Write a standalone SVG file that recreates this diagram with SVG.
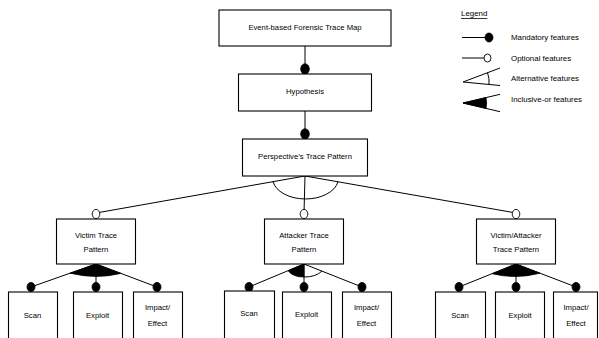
<svg xmlns="http://www.w3.org/2000/svg" width="599" height="338" viewBox="0 0 599 338">
<style>
.box{fill:#fff;stroke:#000;stroke-width:1.1}
.ln{stroke:#000;stroke-width:1;fill:none}
.dot{fill:#000;stroke:#000;stroke-width:0.8}
.opt{fill:#fff;stroke:#000;stroke-width:0.9}
.blk{fill:#000;stroke:#000;stroke-width:0.8}
text{font-family:"Liberation Sans",Arial,sans-serif;font-size:7.7px;fill:#000;text-anchor:middle;dominant-baseline:central}
.lg{text-anchor:start;font-size:7.9px}
</style>
<rect width="599" height="338" fill="#fff"/>
<g id="connectors">
<line class="ln" x1="305" y1="46" x2="305" y2="74"/>
<ellipse class="dot" cx="305" cy="69" rx="4.3" ry="5.2"/>
<line class="ln" x1="305" y1="111" x2="305" y2="139"/>
<ellipse class="dot" cx="305" cy="134" rx="4.3" ry="5.2"/>
<line class="ln" x1="305" y1="176" x2="96" y2="213"/>
<line class="ln" x1="305" y1="176" x2="516" y2="213"/>
<line class="ln" x1="305" y1="176" x2="304" y2="213"/>
<path class="ln" d="M273,181.5 A33,21 0 0 0 338,181.7"/>
<ellipse class="opt" cx="96" cy="214" rx="3.8" ry="4.6"/>
<ellipse class="opt" cx="304" cy="214" rx="3.8" ry="4.6"/>
<ellipse class="opt" cx="516" cy="214" rx="3.8" ry="4.6"/>
<line class="ln" x1="96" y1="264" x2="31" y2="287"/>
<line class="ln" x1="96" y1="264" x2="96" y2="287"/>
<line class="ln" x1="96" y1="264" x2="157" y2="287"/>
<path class="blk" d="M96,264 L70,273.2 Q96,279.5 121,273.4 Z"/>
<ellipse class="dot" cx="31" cy="287" rx="4" ry="4.6"/>
<ellipse class="dot" cx="96" cy="287" rx="4" ry="4.6"/>
<ellipse class="dot" cx="157" cy="287" rx="4" ry="4.6"/>
<line class="ln" x1="304" y1="264" x2="249" y2="287"/>
<line class="ln" x1="304" y1="264" x2="304" y2="287"/>
<line class="ln" x1="304" y1="264" x2="362" y2="287"/>
<path class="blk" d="M304,264 L288,270.7 A18,13 0 0 0 304,277 Z"/>
<path class="ln" d="M304,277 A21,13 0 0 0 322,271.1"/>
<ellipse class="dot" cx="249" cy="287" rx="4" ry="4.6"/>
<ellipse class="dot" cx="304" cy="287" rx="4" ry="4.6"/>
<ellipse class="dot" cx="362" cy="287" rx="4" ry="4.6"/>
<line class="ln" x1="516" y1="264" x2="459" y2="287"/>
<line class="ln" x1="516" y1="264" x2="516" y2="287"/>
<line class="ln" x1="516" y1="264" x2="576" y2="287"/>
<path class="blk" d="M516,264 L492,273.7 Q516,279.5 540,273.2 Z"/>
<ellipse class="dot" cx="459" cy="287" rx="4" ry="4.6"/>
<ellipse class="dot" cx="516" cy="287" rx="4" ry="4.6"/>
<ellipse class="dot" cx="576" cy="287" rx="4" ry="4.6"/>
</g>
<g id="n-root"><rect class="box" x="219" y="10" width="172" height="36"/><text x="305" y="27.5">Event-based Forensic Trace Map</text></g>
<g id="n-hypothesis"><rect class="box" x="238.5" y="74" width="133" height="37"/><text x="305" y="91.5">Hypothesis</text></g>
<g id="n-perspective"><rect class="box" x="242.5" y="139" width="125" height="37"/><text x="305" y="156">Perspective’s Trace Pattern</text></g>
<g id="n-victim"><rect class="box" x="56.5" y="219" width="79" height="45"/><text x="96" y="235">Victim Trace</text><text x="96" y="249">Pattern</text></g>
<g id="n-attacker"><rect class="box" x="264.5" y="219" width="79" height="45"/><text x="304" y="235">Attacker Trace</text><text x="304" y="249">Pattern</text></g>
<g id="n-va"><rect class="box" x="476.5" y="219" width="79" height="45"/><text x="516" y="235">Victim/Attacker</text><text x="516" y="249">Trace Pattern</text></g>
<g id="n-v-scan"><rect class="box" x="8.5" y="292" width="49" height="60"/><text x="32.5" y="315">Scan</text></g>
<g id="n-v-exploit"><rect class="box" x="73.5" y="292" width="49" height="60"/><text x="97.5" y="315">Exploit</text></g>
<g id="n-v-impact"><rect class="box" x="133.5" y="292" width="49" height="60"/><text x="157.5" y="307">Impact/</text><text x="157.5" y="323">Effect</text></g>
<g id="n-a-scan"><rect class="box" x="224.5" y="291" width="50" height="60"/><text x="249" y="313">Scan</text></g>
<g id="n-a-exploit"><rect class="box" x="282.5" y="292" width="49" height="60"/><text x="306.5" y="314">Exploit</text></g>
<g id="n-a-impact"><rect class="box" x="342.5" y="292" width="49" height="60"/><text x="366.5" y="307">Impact/</text><text x="366.5" y="323">Effect</text></g>
<g id="n-va-scan"><rect class="box" x="435.5" y="292" width="50" height="60"/><text x="460" y="315">Scan</text></g>
<g id="n-va-exploit"><rect class="box" x="495.5" y="292" width="49" height="60"/><text x="520" y="315">Exploit</text></g>
<g id="n-va-impact"><rect class="box" x="553.5" y="292" width="44" height="60"/><text x="576" y="307">Impact/</text><text x="576" y="323">Effect</text></g>
<g id="legend">
<text class="lg" x="461" y="13.5" text-decoration="underline">Legend</text>
<line class="ln" x1="462" y1="37.5" x2="486" y2="37.5"/>
<ellipse class="dot" cx="489" cy="37.5" rx="4" ry="4.5"/>
<text class="lg" x="511" y="37.5">Mandatory features</text>
<line class="ln" x1="462" y1="58" x2="484" y2="58"/>
<ellipse class="opt" cx="487.5" cy="58" rx="3.5" ry="4"/>
<text class="lg" x="511" y="58">Optional features</text>
<line class="ln" x1="463" y1="82" x2="500" y2="68"/>
<line class="ln" x1="463" y1="82" x2="500" y2="85.5"/>
<path class="ln" d="M487.5,72.7 A26,26 0 0 1 489,84.4"/>
<text class="lg" x="511" y="78">Alternative features</text>
<line class="ln" x1="463" y1="103" x2="500" y2="94.3"/>
<line class="ln" x1="463" y1="103" x2="500" y2="111.7"/>
<path class="blk" d="M463,103 L486,97.6 A23.5,23.5 0 0 1 486,108.4 Z"/>
<text class="lg" x="511" y="99">Inclusive-or features</text>
</g>
</svg>
